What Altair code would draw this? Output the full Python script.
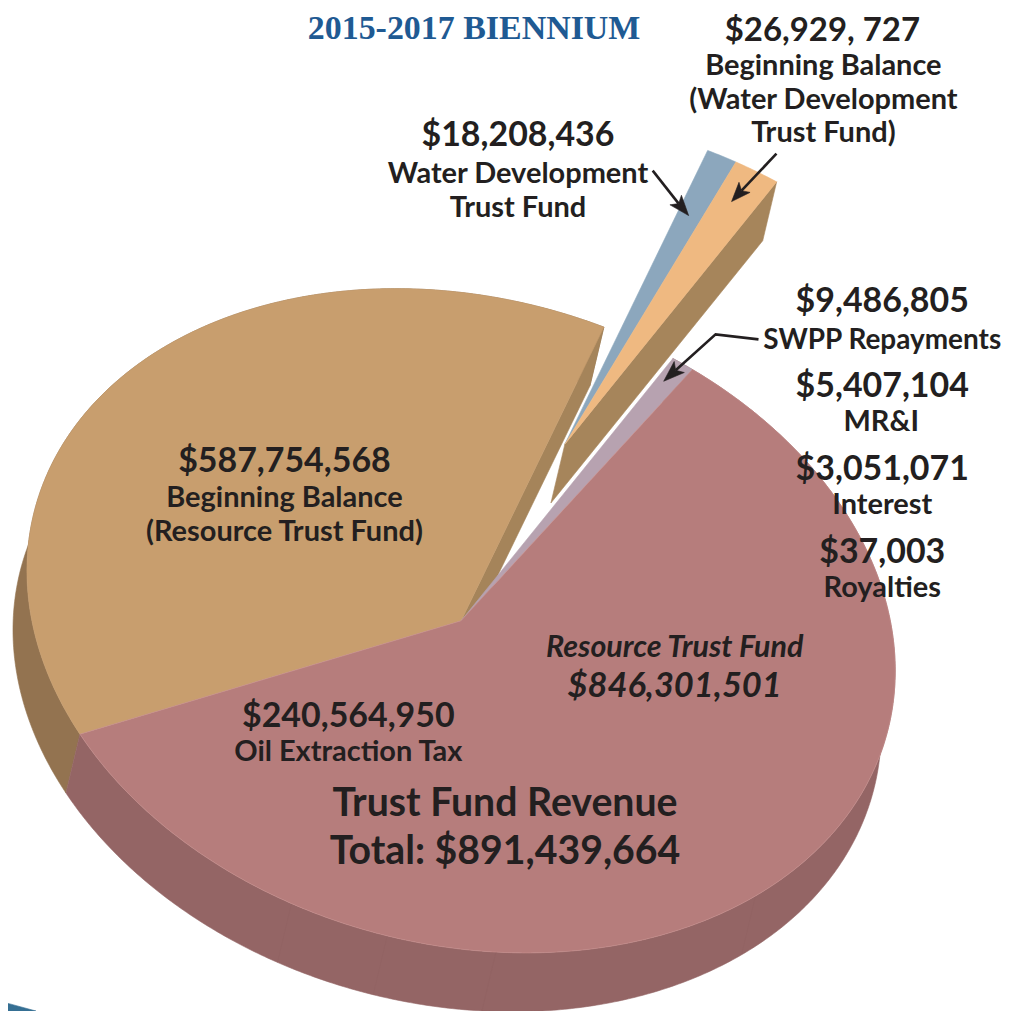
import math
import altair as alt

# ---- values ----
slice_names = ["Beginning Balance (Resource Trust Fund)", "Water Development Trust Fund",
               "Beginning Balance (Water Development Trust Fund)", "SWPP Repayments", "Resource Trust Fund"]
slice_amounts = [587754568, 18208436, 26929727, 9486805, 836814696]
slice_degrees = [137.8, 4.0, 6.0, 3.0, 209.2]
slice_exploded = [False, True, True, False, False]
slice_top = ["#c89e6e", "#8ca7bd", "#efb981", "#b7a2b0", "#b67d7c"]
slice_side = ["#937350", "#a6855b", "#a6855b", "#966767", "#946565"]
start_degree = 241.4
side_seams = [137.3, 175.4, 189.8, 203.0]

PIE_CENTER = (462, 621)
PIE_RX, PIE_RY, PIE_SHEAR = 435, 329, 50
DEPTH = (-14, 59)
EXPLODE = (104, -177)

W, H = 1005, 1004


def rim(t, off=(0, 0)):
    a = math.radians(t)
    return [PIE_CENTER[0] + PIE_RX * math.sin(a) + off[0],
            PIE_CENTER[1] - PIE_RY * math.cos(a) + PIE_SHEAR * math.sin(a) + off[1]]


def arc(a, b, off=(0, 0)):
    n = max(2, int(abs(b - a) * 2))
    return [rim(a + (b - a) * i / n, off) for i in range(n + 1)]


def add(p, q):
    return (p[0] + q[0], p[1] + q[1])


def poly(points, fill, line=None):
    pts = [list(p) for p in points]
    pts.append(pts[0])
    return {"type": "Feature", "geometry": {"type": "Polygon", "coordinates": [pts]},
            "properties": {"fill": fill, "line": line or fill, "w": 0.6}}


def path(points, line, w):
    return {"type": "Feature", "geometry": {"type": "LineString", "coordinates": [list(p) for p in points]},
            "properties": {"fill": "transparent", "line": line, "w": w}}


sides, tops = [], []
t = start_degree
for deg, boom, top, side, name in zip(slice_degrees, slice_exploded, slice_top, slice_side, slice_names):
    a, b = t, t + deg
    off = EXPLODE if boom else (0, 0)
    apex = add(PIE_CENTER, off)
    if not boom:
        sides.append(poly(arc(a, b) + arc(b, a, DEPTH), side))
    tops.append(poly([apex] + arc(a, b, off), top, "#c9918f" if name == "Resource Trust Fund" else top))
    t = b

seams = [path([rim(s), rim(s, DEPTH)], "#8f6262", 0.5) for s in side_seams]

# cut faces
a_end = (start_degree + slice_degrees[0])
faces = [poly([PIE_CENTER, rim(a_end), rim(a_end, DEPTH), add(PIE_CENTER, DEPTH)], "#a5845a")]
w_end = a_end + slice_degrees[1] + slice_degrees[2]
faces.append(poly([add(PIE_CENTER, EXPLODE), rim(w_end, EXPLODE),
                   rim(w_end, add(EXPLODE, DEPTH)), add(add(PIE_CENTER, EXPLODE), DEPTH)], "#a6855b"))

# annotation arrows
arrow_paths = [
    [(654, 170), (680, 203)],
    [(778, 153), (743, 190)],
    [(760, 339), (717, 334), (677, 370)],
]
arrow_tips = [(690, 215), (733, 201), (665, 381)]
arrows = []
for pts, tip in zip(arrow_paths, arrow_tips):
    arrows.append(path(pts, "#231f20", 2.6))
    bx, by = pts[-1]
    dx, dy = tip[0] - bx, tip[1] - by
    L = math.hypot(dx, dy)
    nx, ny = -dy / L, dx / L
    arrows.append(poly([tip, (bx - dx * .3 + nx * 7.5, by - dy * .3 + ny * 7.5),
                        (bx, by), (bx - dx * .3 - nx * 7.5, by - dy * .3 - ny * 7.5)], "#231f20"))

swoosh = [poly([(-8, 1000), (36, 1012), (-8, 1012)], "#356f93")]

features = swoosh + sides + seams + faces + tops + arrows

# label text, centre x, baseline y, size
bold_text = ["$26,929, 727", "Beginning Balance", "(Water Development", "Trust Fund)",
             "$18,208,436", "Water Development", "Trust Fund",
             "$9,486,805", "SWPP Repayments", "$5,407,104", "MR&I", "$3,051,071", "Interest",
             "$37,003", "Royalties",
             "$587,754,568", "Beginning Balance", "(Resource Trust Fund)",
             "$240,564,950", "Oil Extraction Tax",
             "Trust Fund Revenue", "Total: $891,439,664"]
bold_x = [824, 825, 825, 825, 519, 519, 519, 884, 884, 884, 883, 884, 884, 884, 884, 285, 285, 285, 349, 349, 506, 506]
bold_y = [40, 74, 108, 141, 145, 182, 216, 312, 349, 397, 431, 480, 514, 563, 597, 472, 507, 541, 727, 761, 817, 865]
bold_size = [33, 29, 29, 29, 34, 29, 29, 34, 28, 34, 29, 34, 29, 34, 29, 34, 29, 29, 34, 29, 39.3, 39.3]

italic_text = ["Resource Trust Fund", "$846,301,501"]
italic_x = [676, 676]
italic_y = [657, 697]
italic_size = [30.5, 34.5]

x_enc = alt.X("x:Q", scale=alt.Scale(domain=[8, 8 + W], range=[0, W]), axis=None)
y_enc = alt.Y("y:Q", scale=alt.Scale(domain=[8 + H, 8], range=[H, 0]), axis=None)


def rows(text, xs, ys, sizes):
    return [{"t": a, "x": b, "y": c, "s": d} for a, b, c, d in zip(text, xs, ys, sizes)]


shapes = alt.Chart(alt.Data(values=features)).mark_geoshape().encode(
    fill=alt.Fill("properties.fill:N", scale=None),
    stroke=alt.Stroke("properties.line:N", scale=None),
    strokeWidth=alt.StrokeWidth("properties.w:Q", scale=None),
).project(type="identity", scale=1, translate=[-8, -8])

bold = alt.Chart(alt.Data(values=rows(bold_text, bold_x, bold_y, bold_size))).mark_text(
    font="Lato", fontWeight="bold", color="#231f20", align="center", baseline="alphabetic"
).encode(x=x_enc, y=y_enc, text="t:N", size=alt.Size("s:Q", scale=None))

italic = alt.Chart(alt.Data(values=rows(italic_text, italic_x, italic_y, italic_size))).mark_text(
    font="Lato", fontWeight="bold", fontStyle="italic", color="#231f20", align="center", baseline="alphabetic"
).encode(x=x_enc, y=y_enc, text="t:N", size=alt.Size("s:Q", scale=None))

title = alt.Chart(alt.Data(values=rows(["2015-2017 BIENNIUM"], [475], [38], [34]))).mark_text(
    font="Liberation Serif", fontWeight="bold", color="#1f5a93", align="center", baseline="alphabetic"
).encode(x=x_enc, y=y_enc, text="t:N", size=alt.Size("s:Q", scale=None))

chart = alt.layer(shapes, title, bold, italic).properties(
    width=W, height=H, padding=0, autosize=alt.AutoSizeParams(type="none")
).configure_view(stroke=None)

chart.save("out.html", embed_options={"renderer": "svg", "actions": False})
